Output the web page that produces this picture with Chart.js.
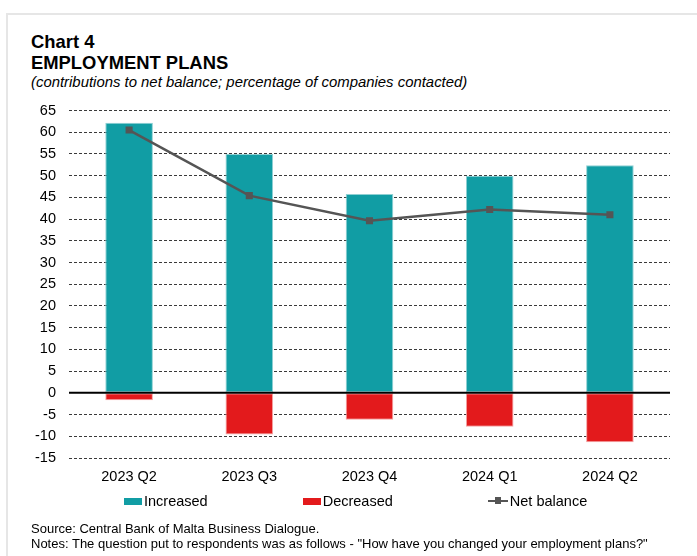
<!DOCTYPE html>
<html>
<head>
<meta charset="utf-8">
<script src="https://cdn.jsdelivr.net/npm/chart.js@4.4.1/dist/chart.umd.min.js"></script>
<style>
  html, body { margin: 0; padding: 0; background: #fff; }
  body { width: 697px; height: 556px; position: relative; overflow: hidden;
         font-family: "Liberation Sans", Arial, sans-serif; color: #000; }
  .frame { position: absolute; left: 6px; top: 13px; width: 720px; height: 600px;
           border-top: 2px solid #e6e6e6; border-left: 2px solid #e6e6e6; }
  .txt { position: absolute; left: 31px; white-space: nowrap; line-height: 1; }
  .title { font-weight: bold; font-size: 18.4px; }
  .subtitle { font-style: italic; font-size: 14.9px; }
  .note { font-size: 13px; left: 31px; }
  #chart-wrap { position: absolute; left: 0; top: 0; width: 697px; height: 556px; }
  #legend { position: absolute; left: 124px; top: 494px; display: flex; gap: 95px;
            font-size: 14.5px; line-height: 1; }
  #legend .item { display: flex; align-items: center; gap: 2px; }
  #legend .box { width: 18px; height: 7px; }
  #legend .line { width: 20px; height: 2px; position: relative; }
  #legend .line span { position: absolute; left: 7px; top: -3px; width: 6px; height: 7px; }
</style>
</head>
<body>
<div class="frame"></div>
<div class="txt title" style="top:33px">Chart 4</div>
<div class="txt title" style="top:54px">EMPLOYMENT PLANS</div>
<div class="txt subtitle" style="top:75px">(contributions to net balance; percentage of companies contacted)</div>

<div id="chart-wrap"><canvas id="employment-chart" width="697" height="556"></canvas></div>
<div id="legend"></div>

<div class="txt note" style="top:522px">Source: Central Bank of Malta Business Dialogue.</div>
<div class="txt note" style="top:537px">Notes: The question put to respondents was as follows - "How have you changed your employment plans?"</div>

<script>
// Survey quarters and balance contributions (% of companies)
const quarters = ['2023 Q2', '2023 Q3', '2023 Q4', '2024 Q1', '2024 Q2'];
const increased = [62.2, 55.0, 45.8, 50.0, 52.4];
const decreased = [-1.7, -9.6, -6.2, -7.8, -11.4];
const netBalance = [60.5, 45.4, 39.6, 42.2, 41.0];

const yMin = -15;
const yMax = 65;
const yStep = 5;

const TEAL = '#119da4';
const RED = '#e31a1c';
const GREY = '#555555';
const FONT = '"Liberation Sans", Arial, sans-serif';

// solid black line at zero, drawn over the bars
const zeroLine = {
    id: 'zeroLine',
    afterDatasetsDraw(chart) {
        const { ctx, chartArea, scales } = chart;
        const y = scales.y.getPixelForValue(0);
        ctx.save();
        ctx.strokeStyle = '#000';
        ctx.lineWidth = 2;
        ctx.beginPath();
        ctx.moveTo(chartArea.left, y);
        ctx.lineTo(chartArea.right, y);
        ctx.stroke();
        ctx.restore();
    }
};

const chart = new Chart(document.getElementById('employment-chart'), {
    type: 'bar',
    data: {
        labels: quarters,
        datasets: [
            {
                type: 'line',
                label: 'Net balance',
                data: netBalance,
                stack: 'net',
                borderColor: GREY,
                backgroundColor: GREY,
                borderWidth: 2.5,
                pointStyle: 'rect',
                pointRadius: 5,
                pointBackgroundColor: GREY,
                pointBorderWidth: 0,
                tension: 0,
                order: 0
            },
            {
                label: 'Increased',
                data: increased,
                stack: 'contrib',
                backgroundColor: TEAL,
                borderColor: '#8fd0d3',
                borderWidth: 1,
                borderSkipped: false,
                barPercentage: 1,
                categoryPercentage: 0.396,
                order: 1
            },
            {
                label: 'Decreased',
                data: decreased,
                stack: 'contrib',
                backgroundColor: RED,
                borderColor: '#f4a3a3',
                borderWidth: 1,
                borderSkipped: false,
                barPercentage: 1,
                categoryPercentage: 0.396,
                order: 1
            }
        ]
    },
    options: {
        responsive: false,
        animation: false,
        layout: { padding: { left: 0, right: 27, top: 110.5, bottom: 58 } },
        plugins: {
            legend: { display: false },
            tooltip: { enabled: false }
        },
        scales: {
            x: {
                stacked: true,
                grid: { display: false, drawTicks: false },
                border: { display: false },
                ticks: { color: '#000', padding: 10, font: { family: FONT, size: 14.5 } },
                afterFit(scale) { scale.height = 40; }
            },
            y: {
                stacked: true,
                min: yMin,
                max: yMax,
                grid: { color: '#3a3a3a', lineWidth: 1, drawTicks: false },
                border: { display: false, dash: [3, 2] },
                ticks: { stepSize: yStep, color: '#000', padding: 13, font: { family: FONT, size: 14.5 } },
                afterFit(scale) { scale.width = 69; }
            }
        }
    },
    plugins: [zeroLine]
});

// legend in series order: bars first, then the line
const legend = document.getElementById('legend');
['Increased', 'Decreased', 'Net balance'].forEach(name => {
    const ds = chart.data.datasets.find(d => d.label === name);
    const item = document.createElement('div');
    item.className = 'item';
    if (ds.type === 'line') {
        item.innerHTML = `<div class="line" style="background:${ds.borderColor}"><span style="background:${ds.borderColor}"></span></div>`;
    } else {
        item.innerHTML = `<div class="box" style="background:${ds.backgroundColor}"></div>`;
    }
    const label = document.createElement('span');
    label.textContent = ds.label;
    item.appendChild(label);
    legend.appendChild(item);
});
</script>
</body>
</html>
